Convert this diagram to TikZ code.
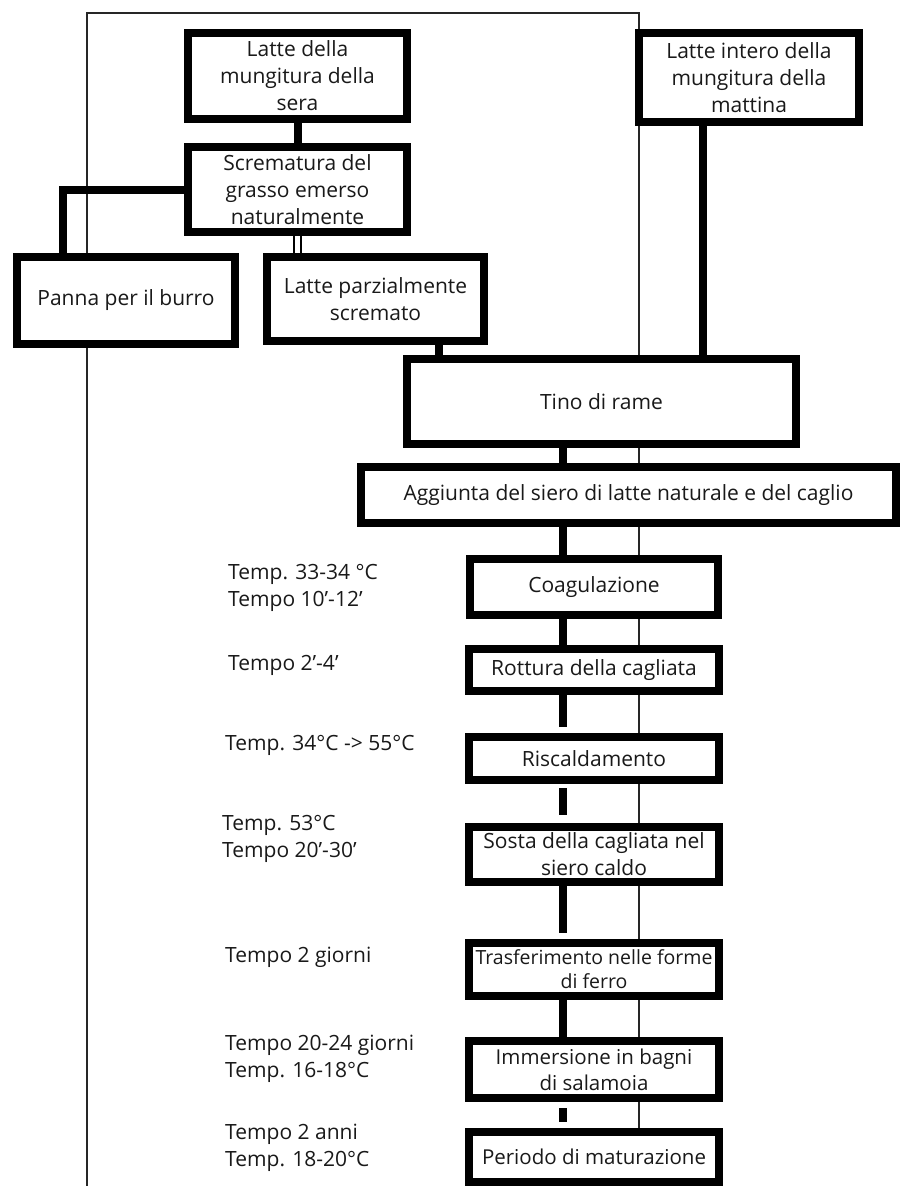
\documentclass[tikz,border=0pt]{standalone}
\usepackage{fontspec}
\setmainfont{Open Sans}
\usepackage{tikz}
\usetikzlibrary{calc}

\begin{document}
\begin{tikzpicture}[x=1pt, y=-1pt, font=\fontsize{21}{27}\selectfont]
    \tikzstyle{every node}=[text=black!90]
    \tikzstyle{box}=[draw=black, line width=8pt, fill=white, rectangle, align=center, inner sep=0pt]
    \tikzstyle{link}=[draw=black, line width=8pt]
    \tikzstyle{hollow}=[draw=black, line width=1.6pt, double=white, double distance=5pt]
    \tikzstyle{frame}=[draw=black!85, line width=1.4pt]
    \tikzstyle{note}=[anchor=west, align=left, inner sep=0pt]
    \useasboundingbox (0,0) rectangle (901,1186);
    % thin frame behind the boxes
    \draw[frame] (87,1186) -- (87,13) -- (639,13) -- (639,1186);
    % upper part
    \node[box, minimum width=219pt, minimum height=86pt] (sera)   at (297.5,76)    {Latte della\\mungitura della\\sera};
    \node[box, minimum width=220pt, minimum height=89pt] (intero) at (749,77.5)    {Latte intero della\\mungitura della\\mattina};
    \node[box, minimum width=219pt, minimum height=85pt] (screm)  at (297.5,189.5) {Scrematura del\\grasso emerso\\naturalmente};
    \node[box, minimum width=218pt, minimum height=87pt] (panna)  at (126,300.5)   {Panna per il burro};
    \node[box, minimum width=217pt, minimum height=84pt] (parz)   at (375.5,299)   {Latte parzialmente\\scremato};
    \node[box, minimum width=389pt, minimum height=85pt] (tino)   at (601.5,401.5) {Tino di rame};
    \node[box, minimum width=535pt, minimum height=56pt] (aggiunta) at (628.5,495) {Aggiunta del siero di latte naturale e del caglio};
    % process chain
    \node[box, minimum width=248pt, minimum height=56pt] (coag)    at (594,587)    {Coagulazione};
    \node[box, minimum width=250pt, minimum height=42pt] (rottura) at (594,670)    {Rottura della cagliata};
    \node[box, minimum width=250pt, minimum height=43pt] (risc)    at (594,758.5)  {Riscaldamento};
    \node[box, minimum width=250pt, minimum height=55pt] (sosta)   at (594,854.5)  {Sosta della cagliata nel\\siero caldo};
    \node[box, minimum width=250pt, minimum height=53pt, font=\fontsize{19.5}{24}\selectfont] (trasf) at (594,969.5) {Trasferimento nelle forme\\di ferro};
    \node[box, minimum width=250pt, minimum height=57pt, font=\fontsize{20.5}{26}\selectfont] (immers) at (594,1069.5) {Immersione in bagni\\di salamoia};
    \node[box, minimum width=250pt, minimum height=50pt, font=\fontsize{20.5}{27}\selectfont] (periodo) at (594,1157) {Periodo di maturazione};
    % times and temperatures
    \node[note] (lcoag)    at (228,587.5)  {Temp. 33-34 °C\\Tempo 10'-12'};
    \node[note] (lrottura) at (228,665)    {Tempo 2'-4'};
    \node[note] (lrisc)    at (225,745)    {Temp. 34°C -> 55°C};
    \node[note] (lsosta)   at (222,838.5)  {Temp. 53°C\\Tempo 20'-30'};
    \node[note] (ltrasf)   at (225,957)    {Tempo 2 giorni};
    \node[note] (limmers)  at (225,1059)   {Tempo 20-24 giorni\\Temp. 16-18°C};
    \node[note] (lperiodo) at (225,1147.5) {Tempo 2 anni\\Temp. 18-20°C};
    % connectors
    \draw[link] (sera) -- (screm);
    \draw[link] (screm.west) -| ([xshift=-63pt]panna.north);
    \draw[hollow] (screm.south) -- (screm.south |- parz.north);
    \draw[link] ([xshift=63.5pt]parz.south) -- ([xshift=63.5pt]parz.south |- tino.north);
    \draw[link] ([xshift=-46pt]intero.south) -- ([xshift=-46pt]intero.south |- tino.north);
    \draw[link] ([xshift=-38.5pt]tino.south) -- ([xshift=-38.5pt]tino.south |- aggiunta.north);
    \path[link]
    ([xshift=-31pt]coag.north |- aggiunta.south)
      edge ([xshift=-31pt]coag.north)
    ([xshift=-31pt]coag.south)
      edge ([xshift=-31pt]rottura.north)
    ([xshift=-31pt]rottura.south)
      edge[shorten >=6pt] ([xshift=-31pt]risc.north)
    ([xshift=-31pt]risc.south)
      edge[shorten <=4pt, shorten >=8pt] ([xshift=-31pt]sosta.north)
    ([xshift=-31pt]sosta.south)
      edge[shorten >=6pt] ([xshift=-31pt]trasf.north)
    ([xshift=-31pt]trasf.south)
      edge ([xshift=-31pt]immers.north)
    ([xshift=-31pt]immers.south)
      edge[shorten <=6pt, shorten >=6pt] ([xshift=-31pt]periodo.north);
\end{tikzpicture}
\end{document}
